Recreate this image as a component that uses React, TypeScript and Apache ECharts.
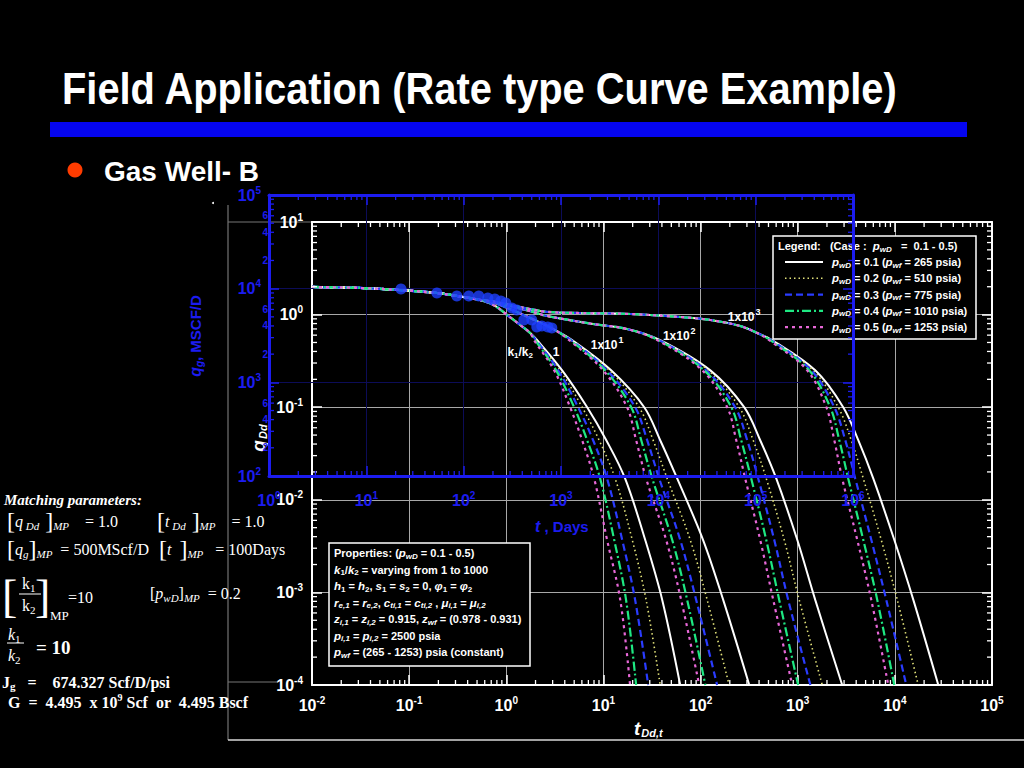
import React, { useEffect, useRef } from "react";
import * as echarts from "echarts";

const SANS = '"Liberation Sans", Arial, Helvetica, sans-serif';
const SERIF = '"Liberation Serif", "Times New Roman", serif';
const BLUE = "#1c1cf0";

// ---------- type curves: t_Dd,t and q_Dd ----------
// early-time stem shared by every curve
const stemT = [0.01, 0.0312, 0.0806, 0.194, 0.311, 0.537];
const stemQ = [1.99, 1.94, 1.84, 1.71, 1.59, 1.44];

// transition part of each k1/k2 branch
const k1HeadT = [0.767, 1.02, 1.39, 1.76];
const k1HeadQ = [1.24, 0.99, 0.772, 0.633];
const k10HeadT = [0.767, 1.09, 1.76, 3.03];
const k10HeadQ = [1.33, 1.15, 0.919, 0.699];
const k100HeadT = [0.767, 1.09, 1.76, 2.63, 7.83, 17.5];
const k100HeadQ = [1.37, 1.24, 1.09, 0.966, 0.792, 0.699];
const k1000HeadT = [0.767, 1.09, 1.76, 2.63, 5.75, 18.8, 61.7, 126, 256, 383];
const k1000HeadQ = [1.37, 1.27, 1.15, 1.07, 1.04, 1.015, 0.942, 0.874, 0.753, 0.633];

// late-time decline: q_Dd levels, and t_Dd,t where each curve reaches them
const tailQ = [0.53, 0.25, 0.1, 0.044, 0.017, 0.0037, 0.00083, 0.0001];

const k1Tail_p01 = [2.08, 3.76, 6.8, 10.7, 16.7, 26.9, 40.3, 61.7];
const k1Tail_p02 = [2.03, 3.58, 6.04, 9.03, 13.2, 19.8, 27.5, 38.4];
const k1Tail_p03 = [2.03, 3.42, 5.49, 7.83, 10.9, 15.6, 21.2, 28.9];
const k1Tail_p04 = [1.98, 3.26, 4.99, 6.8, 9.25, 12.9, 17.1, 21.7];
const k1Tail_p05 = [1.93, 3.11, 4.54, 6.04, 8.02, 10.9, 14.9, 18.8];

const k10Tail_p01 = [4.76, 12.0, 26.3, 38.4, 57.4, 106, 171, 317];
const k10Tail_p02 = [4.65, 11.5, 23.3, 32.5, 45.3, 78.2, 117, 197];
const k10Tail_p03 = [4.65, 10.9, 21.2, 28.2, 37.5, 61.7, 90.1, 148];
const k10Tail_p04 = [4.54, 10.4, 19.3, 24.5, 31.8, 51.0, 72.8, 112];
const k10Tail_p05 = [4.44, 9.93, 17.5, 21.7, 27.5, 44.2, 63.1, 96.8];

const k100Tail_p01 = [38.4, 126, 281, 411, 601, 989, 1515, 2870];
const k100Tail_p02 = [37.5, 120, 250, 348, 474, 726, 1036, 1790];
const k100Tail_p03 = [37.5, 114, 227, 302, 392, 573, 798, 1350];
const k100Tail_p04 = [36.6, 109, 207, 262, 332, 474, 645, 1010];
const k100Tail_p05 = [35.7, 104, 188, 233, 288, 411, 560, 878];

const k1000Tail_p01 = [546, 1515, 2940, 4200, 5990, 9860, 15500, 28000];
const k1000Tail_p02 = [534, 1440, 2610, 3560, 4730, 7240, 10600, 17400];
const k1000Tail_p03 = [534, 1380, 2380, 3090, 3910, 5720, 8160, 13100];
const k1000Tail_p04 = [521, 1310, 2160, 2680, 3310, 4730, 6590, 9860];
const k1000Tail_p05 = [509, 1250, 1970, 2380, 2870, 4100, 5720, 8550];

// ---------- field data: t (days) and q_g (MSCF/D) ----------
const fieldT = [22.7, 53.1, 85.1, 113, 143, 177, 209, 241, 271, 313, 352, 415, 501, 564, 635, 732, 805];
const fieldQ = [9930, 8990, 8360, 8360, 8360, 7960, 7760, 7390, 7040, 6220, 5930, 4630, 4630, 3900, 4000, 3900, 3810];

// ---------- curve annotations (k1/k2) ----------
const annT = [1.39, 3.26, 10.9, 60.3, 281];
const annQ = [0.394, 0.394, 0.47, 0.587, 0.942];
const annLabels = ["{n|k}{sb|1}{n|/k}{sb|2}", "{n|1}", "{n|1x10}{sp|1}", "{n|1x10}{sp|2}", "{n|1x10}{sp|3}"];

// ---------- legend ----------
const pwdValues = ["0.1", "0.2", "0.3", "0.4", "0.5"];
const pwfValues = ["265", "510", "775", "1010", "1253"];

// ---------- axis ticks ----------
const minorMult = [2, 3, 4, 5, 6, 7, 8, 9];
const whiteXDecades = [-2, -1, 0, 1, 2, 3, 4];
const whiteYDecades = [-4, -3, -2, -1, 0];
const blueXDecades = [0, 1, 2, 3, 4, 5];
const blueYDecades = [2, 3, 4];
const blueYMinorLabels = [2, 4, 6];

const curveStyles = [
  { color: "#ffffff", type: "solid" as any, width: 2 },
  { color: "#e2e27a", type: [1.5, 3] as any, width: 1.6 },
  { color: "#2a3cff", type: [7, 4] as any, width: 2.2 },
  { color: "#1ee882", type: [9, 3, 2, 3] as any, width: 2.2 },
  { color: "#e868d8", type: [3, 4] as any, width: 2.2 },
];

const branches = [
  { headT: k1HeadT, headQ: k1HeadQ, tails: [k1Tail_p01, k1Tail_p02, k1Tail_p03, k1Tail_p04, k1Tail_p05] },
  { headT: k10HeadT, headQ: k10HeadQ, tails: [k10Tail_p01, k10Tail_p02, k10Tail_p03, k10Tail_p04, k10Tail_p05] },
  { headT: k100HeadT, headQ: k100HeadQ, tails: [k100Tail_p01, k100Tail_p02, k100Tail_p03, k100Tail_p04, k100Tail_p05] },
  { headT: k1000HeadT, headQ: k1000HeadQ, tails: [k1000Tail_p01, k1000Tail_p02, k1000Tail_p03, k1000Tail_p04, k1000Tail_p05] },
];

const minorOf = (decs: number[]) =>
  decs.flatMap((d) => minorMult.map((m) => Number((m * Math.pow(10, d)).toPrecision(3))));

const expFmt = (v: number) => `{b|10}{s|${Math.round(Math.log10(v))}}`;
const expRich = (color: string, size: number) => ({
  b: { color, fontSize: size, fontWeight: "bold", fontFamily: SANS },
  s: { color, fontSize: 10, fontWeight: "bold", fontFamily: SANS, padding: [0, 0, 10, 0] },
});

function minorX(xi: number, yi: number, vals: number[], yMin: number, yMax: number, color: string, len: number, z: number) {
  return {
    type: "custom", xAxisIndex: xi, yAxisIndex: yi, z, silent: true,
    data: vals.map((v) => [v, yMin]),
    renderItem: (_p: any, api: any) => {
      const v = api.value(0);
      const b = api.coord([v, yMin]);
      const t = api.coord([v, yMax]);
      return {
        type: "group",
        children: [
          { type: "line", shape: { x1: b[0], y1: b[1], x2: b[0], y2: b[1] - len }, style: { stroke: color, lineWidth: 1.3 } },
          { type: "line", shape: { x1: t[0], y1: t[1], x2: t[0], y2: t[1] + len }, style: { stroke: color, lineWidth: 1.3 } },
        ],
      };
    },
  };
}

function minorY(xi: number, yi: number, vals: number[], xMin: number, xMax: number, color: string, len: number, z: number, labels: number[]) {
  return {
    type: "custom", xAxisIndex: xi, yAxisIndex: yi, z, silent: true,
    data: vals.map((v) => [xMin, v]),
    renderItem: (_p: any, api: any) => {
      const v = api.value(1);
      const l = api.coord([xMin, v]);
      const r = api.coord([xMax, v]);
      const m = Math.round(v / Math.pow(10, Math.floor(Math.log10(v) + 1e-9)));
      const children: any[] = [
        { type: "line", shape: { x1: l[0], y1: l[1], x2: l[0] + len, y2: l[1] }, style: { stroke: color, lineWidth: 1.3 } },
        { type: "line", shape: { x1: r[0], y1: r[1], x2: r[0] - len, y2: r[1] }, style: { stroke: color, lineWidth: 1.3 } },
      ];
      if (labels.indexOf(m) >= 0) {
        children.push({
          type: "text", x: l[0] - 1, y: l[1],
          style: { text: String(m), fill: color, font: `bold 10px ${SANS}`, align: "right", textAlign: "right", verticalAlign: "middle", textVerticalAlign: "middle" },
        });
      }
      return { type: "group", children };
    },
  };
}

function txt(x: number, y: number, text: string, rich: any, z = 8, extra: any = {}) {
  return {
    type: "text", x, y, z, silent: true, ...extra,
    style: { text, rich, fill: "#fff", align: "left", textAlign: "left", verticalAlign: "middle", textVerticalAlign: "middle", ...(extra.style || {}) },
  };
}

const smallRich = {
  n: { font: `bold 11px ${SANS}`, fill: "#fff" },
  i: { font: `italic bold 11.5px ${SANS}`, fill: "#fff" },
  sb: { font: `italic bold 8px ${SANS}`, fill: "#fff", padding: [6, 0, 0, 0] },
  sbn: { font: `bold 8px ${SANS}`, fill: "#fff", padding: [6, 0, 0, 0] },
};

const mRich = {
  t: { font: `16px ${SERIF}`, fill: "#fff" },
  ti: { font: `italic 16px ${SERIF}`, fill: "#fff" },
  br: { font: `24px ${SERIF}`, fill: "#fff" },
  sb: { font: `italic 11px ${SERIF}`, fill: "#fff", padding: [9, 0, 0, 0] },
  sbu: { font: `11px ${SERIF}`, fill: "#fff", padding: [9, 0, 0, 0] },
  B: { font: `bold 16px ${SERIF}`, fill: "#fff" },
  Bs: { font: `bold 11px ${SERIF}`, fill: "#fff", padding: [7, 0, 0, 0] },
  Bp: { font: `bold 10px ${SERIF}`, fill: "#fff", padding: [0, 0, 9, 0] },
  BI: { font: `italic bold 15px ${SERIF}`, fill: "#fff" },
};

function buildOption(): any {
  const series: any[] = [];
  branches.forEach((br) => {
    br.tails.forEach((tail, pi) => {
      const data = [
        ...stemT.map((t, i) => [t, stemQ[i]]),
        ...br.headT.map((t, i) => [t, br.headQ[i]]),
        ...tail.map((t, i) => [t, tailQ[i]]),
      ];
      const st = curveStyles[pi];
      series.push({
        type: "line", xAxisIndex: 0, yAxisIndex: 0, data, showSymbol: false, symbol: "none",
        smooth: 0.35, silent: true, z: 2,
        lineStyle: { color: st.color, type: st.type, width: st.width },
      });
    });
  });

  series.push({
    type: "scatter", xAxisIndex: 0, yAxisIndex: 0, z: 4, silent: true, symbolSize: 1,
    itemStyle: { color: "rgba(0,0,0,0)" },
    data: annT.map((t, i) => ({ value: [t, annQ[i]], name: annLabels[i] })),
    label: {
      show: true, position: "inside", formatter: (p: any) => p.name,
      color: "#ffffff", fontWeight: "bold", fontSize: 12, opacity: 1,
      rich: {
        n: { color: "#ffffff", fontSize: 12, fontWeight: "bold", fontFamily: SANS },
        sb: { color: "#ffffff", fontSize: 8, fontWeight: "bold", fontFamily: SANS, padding: [6, 0, 0, 0] },
        sp: { color: "#ffffff", fontSize: 9, fontWeight: "bold", fontFamily: SANS, padding: [0, 0, 10, 1] },
      },
    },
  });

  series.push(minorX(0, 0, minorOf(whiteXDecades), 1e-4, 10, "#ffffff", 5, 3));
  series.push(minorY(0, 0, minorOf(whiteYDecades), 0.01, 1e5, "#ffffff", 5, 3, []));
  series.push(minorX(2, 2, minorOf(blueXDecades), 100, 1e5, BLUE, 5, 11));
  series.push(minorY(2, 2, minorOf(blueYDecades), 1, 1e6, BLUE, 5, 11, blueYMinorLabels));

  series.push({
    type: "scatter", xAxisIndex: 2, yAxisIndex: 2, z: 12, silent: true, symbolSize: 11,
    itemStyle: { color: "#1e40ff" },
    data: fieldT.map((t, i) => [t, fieldQ[i]]),
  });

  const whiteLine = { show: true, onZero: false, lineStyle: { color: "#ffffff", width: 2 } };
  const whiteTick = { show: true, inside: true, length: 10, lineStyle: { color: "#ffffff", width: 1.5 } };
  const blueLine = { show: true, onZero: false, lineStyle: { color: BLUE, width: 3 } };
  const blueTick = { show: true, inside: true, length: 10, lineStyle: { color: BLUE, width: 1.5 } };
  const noSplit = { show: false };

  const xAxis = [
    { type: "log", logBase: 10, gridIndex: 0, min: 0.01, max: 1e5, position: "bottom", axisLine: whiteLine, axisTick: whiteTick,
      axisLabel: { show: true, margin: 10, formatter: expFmt, rich: expRich("#ffffff", 16) },
      splitLine: { show: true, lineStyle: { color: "#a8a8a8", width: 1 } } },
    { type: "log", logBase: 10, gridIndex: 0, min: 0.01, max: 1e5, position: "top", axisLine: whiteLine, axisTick: whiteTick,
      axisLabel: { show: false }, splitLine: noSplit },
    { type: "log", logBase: 10, gridIndex: 1, min: 1, max: 1e6, position: "bottom", z: 10, axisLine: blueLine, axisTick: blueTick,
      axisLabel: { show: true, margin: 14, formatter: expFmt, rich: expRich(BLUE, 16) }, splitLine: noSplit },
    { type: "log", logBase: 10, gridIndex: 1, min: 1, max: 1e6, position: "top", z: 10, axisLine: blueLine, axisTick: blueTick,
      axisLabel: { show: false }, splitLine: noSplit },
    { type: "log", logBase: 10, gridIndex: 1, min: 1, max: 1e6, position: "bottom", z: 1, axisLine: { show: false }, axisTick: { show: false },
      axisLabel: { show: false }, splitLine: { show: true, lineStyle: { color: "#0c0c58", width: 1 } } },
  ];
  const yAxis = [
    { type: "log", logBase: 10, gridIndex: 0, min: 1e-4, max: 10, position: "left", axisLine: whiteLine, axisTick: whiteTick,
      axisLabel: { show: true, margin: 9, formatter: expFmt, rich: expRich("#ffffff", 16) },
      splitLine: { show: true, lineStyle: { color: "#a8a8a8", width: 1 } } },
    { type: "log", logBase: 10, gridIndex: 0, min: 1e-4, max: 10, position: "right", axisLine: whiteLine, axisTick: whiteTick,
      axisLabel: { show: false }, splitLine: noSplit },
    { type: "log", logBase: 10, gridIndex: 1, min: 100, max: 1e5, position: "left", z: 10, axisLine: blueLine, axisTick: blueTick,
      axisLabel: { show: true, margin: 8, formatter: expFmt, rich: expRich(BLUE, 16) }, splitLine: noSplit },
    { type: "log", logBase: 10, gridIndex: 1, min: 100, max: 1e5, position: "right", z: 10, axisLine: blueLine, axisTick: blueTick,
      axisLabel: { show: false }, splitLine: noSplit },
    { type: "log", logBase: 10, gridIndex: 1, min: 100, max: 1e5, position: "left", z: 1, axisLine: { show: false }, axisTick: { show: false },
      axisLabel: { show: false }, splitLine: { show: true, lineStyle: { color: "#0c0c58", width: 1 } } },
  ];

  const legendRows = pwdValues.map((p, i) =>
    txt(832, 262 + i * 16.3, `{i|p}{sb|wD}{n| = ${p} (}{i|p}{sb|wf}{n| = ${pwfValues[i]} psia)}`, smallRich, 8)
  );
  const legendSamples = curveStyles.map((st, i) => ({
    type: "line", z: 8, silent: true,
    shape: { x1: 785, y1: 262 + i * 16.3, x2: 823, y2: 262 + i * 16.3 },
    style: { stroke: st.color, lineWidth: st.width, lineDash: Array.isArray(st.type) ? st.type : null },
  }));

  const propLines = [
    "{n|Properties: (}{i|p}{sb|wD}{n| = 0.1 - 0.5)}",
    "{i|k}{sbn|1}{n|/}{i|k}{sbn|2}{n| = varying from 1 to 1000}",
    "{i|h}{sbn|1}{n| = }{i|h}{sbn|2}{n|, }{i|s}{sbn|1}{n| = }{i|s}{sbn|2}{n| = 0, }{i|φ}{sbn|1}{n| = }{i|φ}{sbn|2}",
    "{i|r}{sb|e,1}{n| = }{i|r}{sb|e,2}{n|, }{i|c}{sb|ti,1}{n| = }{i|c}{sb|ti,2}{n| , }{i|μ}{sb|i,1}{n| = }{i|μ}{sb|i,2}",
    "{i|z}{sb|i,1}{n| = }{i|z}{sb|i,2}{n| = 0.915, }{i|z}{sb|wf}{n| = (0.978 - 0.931)}",
    "{i|p}{sb|i,1}{n| = }{i|p}{sb|i,2}{n| = 2500 psia}",
    "{i|p}{sb|wf}{n| = (265 - 1253) psia (constant)}",
  ];

  const graphic: any[] = [
    // slide title, rule and bullet
    txt(62, 89, "Field Application (Rate type Curve Example)", undefined, 8, { scaleX: 0.905, style: { font: `bold 44px ${SANS}` } }),
    { type: "rect", shape: { x: 50, y: 122, width: 917, height: 15 }, style: { fill: "#0505f0" }, silent: true },
    { type: "circle", shape: { cx: 75, cy: 170, r: 7.5 }, style: { fill: "#ff3c00" }, silent: true },
    txt(104, 171, "Gas Well- B", undefined, 8, { style: { font: `bold 28px ${SANS}` } }),
    // picture frame
    { type: "line", silent: true, shape: { x1: 228, y1: 205, x2: 228, y2: 740 }, style: { stroke: "#8a8a8a", lineWidth: 1 } },
    { type: "line", silent: true, shape: { x1: 228, y1: 740, x2: 1024, y2: 740 }, style: { stroke: "#d8d8d8", lineWidth: 1.5 } },
    { type: "line", silent: true, shape: { x1: 228, y1: 222, x2: 312, y2: 222 }, style: { stroke: "#777", lineWidth: 1 } },
    { type: "line", silent: true, shape: { x1: 228, y1: 682, x2: 278, y2: 682 }, style: { stroke: "#777", lineWidth: 1 } },
    { type: "circle", silent: true, shape: { cx: 213, cy: 203, r: 1 }, style: { fill: "#fff" } },
    // axis titles
    txt(634, 728, "{a|t}{b|Dd,t}", {
      a: { font: `italic bold 19px ${SANS}`, fill: "#fff" },
      b: { font: `italic bold 11px ${SANS}`, fill: "#fff", padding: [9, 0, 0, 1] },
    }),
    txt(258, 438, "{a|q}{b|Dd}", {
      a: { font: `italic bold 19px ${SANS}`, fill: "#fff" },
      b: { font: `italic bold 11px ${SANS}`, fill: "#fff", padding: [9, 0, 0, 1] },
    }, 8, { rotation: Math.PI / 2, style: { align: "center", textAlign: "center" } }),
    txt(195, 336, "{a|q}{b|g}{c|, MSCF/D}", {
      a: { font: `italic bold 16px ${SANS}`, fill: BLUE },
      b: { font: `italic bold 10px ${SANS}`, fill: BLUE, padding: [8, 0, 0, 0] },
      c: { font: `bold 15px ${SANS}`, fill: BLUE },
    }, 8, { rotation: Math.PI / 2, style: { align: "center", textAlign: "center" } }),
    txt(535, 526, "{a|t}{c| , Days}", {
      a: { font: `italic bold 16px ${SANS}`, fill: BLUE },
      c: { font: `bold 15px ${SANS}`, fill: BLUE },
    }, 13),
    // legend box
    { type: "rect", z: 6, silent: true, shape: { x: 773, y: 236, width: 203, height: 103 }, style: { fill: "#000", stroke: "#ffffff", lineWidth: 1.5 } },
    txt(778, 246, "{n|Legend:   (Case :  }{i|p}{sb|wD}{n|   =  0.1 - 0.5)}", smallRich, 8),
    ...legendSamples,
    ...legendRows,
    // properties box
    { type: "rect", z: 6, silent: true, shape: { x: 329, y: 543, width: 201, height: 123 }, style: { fill: "#000", stroke: "#ffffff", lineWidth: 1.5 } },
    ...propLines.map((s, i) => txt(334, 553 + i * 16.5, s, smallRich, 8)),
    // matching parameters
    txt(4, 500, "{BI|Matching parameters:}", mRich),
    txt(7, 521, "{br|[}{ti|q}{sb| Dd}{br| ]}{sb|MP}{t|    = 1.0}", mRich),
    txt(157, 521, "{br|[}{ti|t}{sb| Dd}{br| ]}{sb|MP}{t|    = 1.0}", mRich),
    txt(7, 549, "{br|[}{ti|q}{sb|g}{br|]}{sb|MP}{t|  = 500MScf/D}", mRich),
    txt(159, 549, "{br|[}{ti|t}{t|  }{br|]}{sb|MP}{t|   = 100Days}", mRich),
    txt(150, 593, "{t|[}{ti|p}{sb|wD}{t|]}{sb|MP}{t|  = 0.2}", mRich),
    txt(2, 596, "[", undefined, 8, { style: { font: `46px ${SERIF}` } }),
    txt(35, 596, "]", undefined, 8, { style: { font: `46px ${SERIF}` } }),
    txt(22, 583, "{t|k}{sbu|1}", mRich),
    { type: "line", silent: true, shape: { x1: 19, y1: 594, x2: 41, y2: 594 }, style: { stroke: "#fff", lineWidth: 1 } },
    txt(22, 605, "{t|k}{sbu|2}", mRich),
    txt(50, 615, "{t|MP}", { t: { font: `13px ${SERIF}`, fill: "#fff" } }),
    txt(68, 597, "{t|=10}", mRich),
    txt(8, 634, "{ti|k}{sbu|1}", mRich),
    { type: "line", silent: true, shape: { x1: 7, y1: 643, x2: 24, y2: 643 }, style: { stroke: "#fff", lineWidth: 1 } },
    txt(8, 655, "{ti|k}{sbu|2}", mRich),
    txt(36, 647, "{B|= 10}", { B: { font: `bold 19px ${SERIF}`, fill: "#fff" } }),
    txt(2, 682, "{B|J}{Bs|g}{B|   =    674.327 Scf/D/psi}", mRich),
    txt(8, 702, "{B|G  =  4.495  x 10}{Bp|9}{B| Scf  or  4.495 Bscf}", mRich),
  ];

  return {
    animation: false,
    backgroundColor: "#000000",
    textStyle: { fontFamily: SANS },
    grid: [
      { left: 312, top: 222, width: 680, height: 463, outerBoundsMode: "none", show: false },
      { left: 269, top: 195, width: 584, height: 281, outerBoundsMode: "none", show: false },
    ],
    xAxis,
    yAxis,
    series,
    graphic,
  };
}

export default function App() {
  const ref = useRef<HTMLDivElement>(null);
  useEffect(() => {
    if (!ref.current) return;
    const chart = echarts.init(ref.current, null, { renderer: "svg" });
    chart.setOption(buildOption());
    return () => chart.dispose();
  }, []);
  return (
    <div
      ref={ref}
      style={{ position: "fixed", left: 0, top: 0, width: 1024, height: 768, background: "#000" }}
    />
  );
}
